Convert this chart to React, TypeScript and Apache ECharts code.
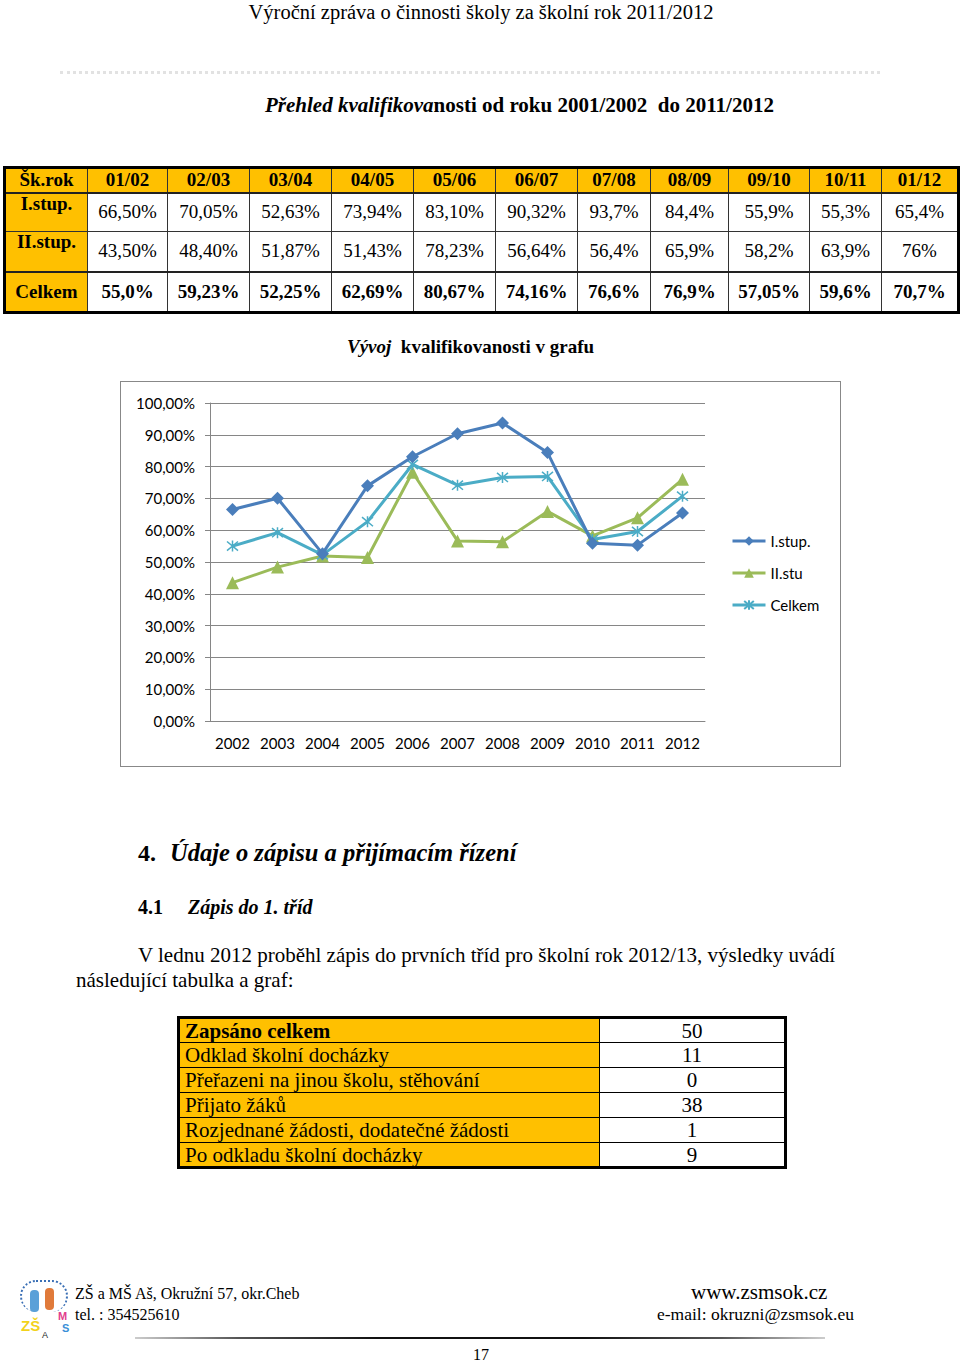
import React, { useEffect, useRef } from "react";
import * as echarts from "echarts";

// ---------- data ----------
const schoolYears = ["01/02", "02/03", "03/04", "04/05", "05/06", "06/07", "07/08", "08/09", "09/10", "10/11", "01/12"];
const chartYears = ["2002", "2003", "2004", "2005", "2006", "2007", "2008", "2009", "2010", "2011", "2012"];
const stup1Text = ["66,50%", "70,05%", "52,63%", "73,94%", "83,10%", "90,32%", "93,7%", "84,4%", "55,9%", "55,3%", "65,4%"];
const stup2Text = ["43,50%", "48,40%", "51,87%", "51,43%", "78,23%", "56,64%", "56,4%", "65,9%", "58,2%", "63,9%", "76%"];
const totalText = ["55,0%", "59,23%", "52,25%", "62,69%", "80,67%", "74,16%", "76,6%", "76,9%", "57,05%", "59,6%", "70,7%"];
const rowLabels = ["Šk.rok", "I.stup.", "II.stup.", "Celkem"];
const seriesNames = ["I.stup.", "II.stu", "Celkem"];
const enrolLabels = [
  "Zapsáno celkem",
  "Odklad školní docházky",
  "Přeřazeni na jinou školu, stěhování",
  "Přijato žáků",
  "Rozjednané žádosti, dodatečné žádosti",
  "Po odkladu školní docházky",
];
const enrolValues = [50, 11, 0, 38, 1, 9];

const toNum = (s: string) => parseFloat(s.replace("%", "").replace(",", "."));

// ---------- styles ----------
const SERIF = "'Liberation Serif', 'DejaVu Serif', serif";
const YELLOW = "#FFC000";
const colWidths = [83, 80, 82, 82, 82, 82, 82, 73, 78, 81, 72, 77];

const abs = (left: number, top: number, extra: React.CSSProperties = {}): React.CSSProperties => ({
  position: "absolute",
  left,
  top,
  whiteSpace: "nowrap",
  ...extra,
});

function Chart() {
  const ref = useRef<HTMLDivElement>(null);
  useEffect(() => {
    if (!ref.current) return;
    const chart = echarts.init(ref.current, undefined, { renderer: "svg" });
    const grey = "#868686";
    const asterisk = "path://M0,0L10,10M10,0L0,10M5,-1L5,11";
    chart.setOption({
      animation: false,
      textStyle: { fontFamily: "Lato, 'Open Sans', sans-serif" },
      grid: { left: 89, top: 21, right: 135, bottom: 45, containLabel: false, outerBoundsMode: "none" },
      legend: {
        orient: "vertical",
        left: 605,
        top: 146,
        itemWidth: 33,
        itemHeight: 12,
        itemGap: 16,
        data: seriesNames,
        lineStyle: { width: 3 },
        textStyle: { fontSize: 15, color: "#000", lineHeight: 16 },
      },
      xAxis: {
        type: "category",
        data: chartYears,
        boundaryGap: true,
        axisLine: { lineStyle: { color: grey } },
        axisTick: { length: 5, lineStyle: { color: grey } },
        axisLabel: { color: "#000", fontSize: 15, margin: 14, interval: 0 },
      },
      yAxis: {
        type: "value",
        min: 0,
        max: 100,
        interval: 10,
        axisLine: { show: true, lineStyle: { color: grey } },
        axisTick: { show: true, length: 5, lineStyle: { color: grey } },
        splitLine: { lineStyle: { color: grey } },
        axisLabel: {
          color: "#000",
          fontSize: 15,
          margin: 15,
          formatter: (v: number) => v.toFixed(2).replace(".", ",") + "%",
        },
      },
      series: [
        {
          name: seriesNames[0],
          type: "line",
          data: stup1Text.map(toNum),
          symbol: "diamond",
          symbolSize: 13,
          z: 4,
          color: "#4A7EBB",
          lineStyle: { width: 3 },
        },
        {
          name: seriesNames[1],
          type: "line",
          data: stup2Text.map(toNum),
          symbol: "triangle",
          symbolSize: 13,
          z: 2,
          color: "#9BBB59",
          lineStyle: { width: 3 },
        },
        {
          name: seriesNames[2],
          type: "line",
          data: totalText.map(toNum),
          symbol: asterisk,
          symbolSize: 11,
          z: 3,
          color: "#4BACC6",
          itemStyle: { borderColor: "#4BACC6", borderWidth: 1.5 },
          lineStyle: { width: 3 },
        },
      ],
    });
    return () => chart.dispose();
  }, []);
  return <div ref={ref} style={{ width: 719, height: 384 }} />;
}

function QualTable() {
  const rows = [schoolYears, stup1Text, stup2Text, totalText];
  const heights = [25, 39, 40, 41];
  return (
    <table
      style={{
        ...abs(3, 166),
        width: 955,
        borderCollapse: "collapse",
        tableLayout: "fixed",
        border: "3px solid #000",
        fontFamily: SERIF,
        fontSize: 19,
      }}
    >
      <colgroup>
        {colWidths.map((w, i) => (
          <col key={i} style={{ width: w }} />
        ))}
      </colgroup>
      <tbody>
        {rows.map((r, ri) => (
          <tr key={ri} style={{ height: heights[ri] }}>
            <td
              style={{
                background: YELLOW,
                fontWeight: "bold",
                textAlign: "center",
                verticalAlign: ri === 1 || ri === 2 ? "top" : "middle",
                border: "1px solid #333",
                borderBottom: ri === 0 || ri === 2 ? "2px solid #222" : "1px solid #333",
                padding: 0,
                lineHeight: "20px",
              }}
            >
              {rowLabels[ri]}
            </td>
            {r.map((c, ci) => (
              <td
                key={ci}
                style={{
                  background: ri === 0 ? YELLOW : "#fff",
                  fontWeight: ri === 0 || ri === 3 ? "bold" : "normal",
                  textAlign: "center",
                  verticalAlign: "middle",
                  border: "1px solid #333",
                  borderBottom: ri === 0 || ri === 2 ? "2px solid #222" : "1px solid #333",
                  padding: 0,
                  lineHeight: "20px",
                }}
              >
                {c}
              </td>
            ))}
          </tr>
        ))}
      </tbody>
    </table>
  );
}

function EnrolTable() {
  return (
    <table
      style={{
        ...abs(177, 1016),
        width: 607,
        borderCollapse: "collapse",
        tableLayout: "fixed",
        border: "3px solid #000",
        fontFamily: SERIF,
        fontSize: 21,
      }}
    >
      <colgroup>
        <col style={{ width: 421 }} />
        <col style={{ width: 186 }} />
      </colgroup>
      <tbody>
        {enrolLabels.map((l, i) => (
          <tr key={i} style={{ height: 25 }}>
            <td
              style={{
                background: YELLOW,
                fontWeight: i === 0 ? "bold" : "normal",
                border: "1px solid #000",
                padding: "0 0 0 5px",
                lineHeight: "22px",
              }}
            >
              {l}
            </td>
            <td
              style={{
                background: "#fff",
                textAlign: "center",
                border: "1px solid #000",
                padding: 0,
                lineHeight: "22px",
              }}
            >
              {enrolValues[i]}
            </td>
          </tr>
        ))}
      </tbody>
    </table>
  );
}

export default function App() {
  return (
    <div
      style={{
        position: "absolute",
        left: 0,
        top: 0,
        width: 960,
        height: 1362,
        background: "#fff",
        overflow: "hidden",
        fontFamily: SERIF,
        color: "#000",
      }}
    >
      {/* header */}
      <div style={{ ...abs(0, 1, { width: 962, textAlign: "center", fontSize: 20.5, lineHeight: "22px" }) }}>
        Výroční zpráva o činnosti školy za školní rok 2011/2012
      </div>
      <div style={abs(60, 71, { width: 820, borderTop: "3px dotted #e2e2e2" })} />

      <div style={abs(265, 94, { fontSize: 21, lineHeight: "22px", fontWeight: "bold" })}>
        <i>Přehled kvalifikova</i>nosti od roku 2001/2002&nbsp; do 2011/2012
      </div>

      <QualTable />

      <div style={abs(347, 336, { fontSize: 19, lineHeight: "22px", fontWeight: "bold" })}>
        <i>Vývoj</i>&nbsp; kvalifikovanosti v grafu
      </div>

      <div style={abs(120, 381, { border: "1px solid #888", width: 719, height: 384 })}>
        <Chart />
      </div>

      {/* section 4 */}
      <div style={abs(138, 839, { fontSize: 24, lineHeight: "28px", fontWeight: "bold" })}>4.</div>
      <div style={abs(170, 839, { fontSize: 24.5, lineHeight: "28px", fontWeight: "bold", fontStyle: "italic" })}>
        Údaje o zápisu a přijímacím řízení
      </div>
      <div style={abs(138, 896, { fontSize: 20, lineHeight: "22px", fontWeight: "bold" })}>4.1</div>
      <div style={abs(188, 896, { fontSize: 20, lineHeight: "22px", fontWeight: "bold", fontStyle: "italic" })}>
        Zápis do 1. tříd
      </div>
      <div style={abs(138, 944, { fontSize: 21, lineHeight: "22px" })}>
        V lednu 2012 proběhl zápis do prvních tříd pro školní rok 2012/13, výsledky uvádí
      </div>
      <div style={abs(76, 969, { fontSize: 21, lineHeight: "22px" })}>následující tabulka a graf:</div>

      <EnrolTable />

      {/* footer logo */}
      <div style={abs(18, 1278, { width: 56, height: 64, fontFamily: "'Liberation Sans', sans-serif" })}>
        <div style={abs(2, 2, { width: 44, height: 30, borderRadius: 22, border: "2px dotted #3a6fb5", borderBottom: "none" })} />
        <div style={abs(12, 12, { width: 9, height: 22, background: "#5aa0d8", borderRadius: 4 })} />
        <div style={abs(27, 10, { width: 9, height: 22, background: "#e07a3a", borderRadius: 4 })} />
        <div style={abs(40, 32, { fontSize: 11, fontWeight: "bold", color: "#e23d8c", lineHeight: "12px" })}>M</div>
        <div style={abs(44, 44, { fontSize: 11, fontWeight: "bold", color: "#3a8fd8", lineHeight: "12px" })}>S</div>
        <div style={abs(3, 40, { fontSize: 15, fontWeight: "bold", color: "#f2d21b", lineHeight: "16px" })}>ZŠ</div>
        <div style={abs(24, 52, { fontSize: 9, color: "#222", lineHeight: "10px" })}>A</div>
      </div>
      <div style={abs(75, 1284, { fontSize: 16, lineHeight: "19px" })}>ZŠ a MŠ Aš, Okružní 57, okr.Cheb</div>
      <div style={abs(75, 1305, { fontSize: 16, lineHeight: "19px" })}>tel. : 354525610</div>
      <div style={abs(691, 1282, { fontSize: 21, lineHeight: "21px" })}>www.zsmsok.cz</div>
      <div style={abs(657, 1305, { fontSize: 17.5, lineHeight: "19px" })}>e-mail: okruzni@zsmsok.eu</div>
      <div
        style={abs(135, 1337, {
          width: 690,
          height: 2,
          background: "linear-gradient(to right, #ccc 0%, #555 15%, #111 35%, #111 65%, #555 85%, #ccc 100%)",
        })}
      />
      <div style={abs(0, 1345, { width: 962, textAlign: "center", fontSize: 16, lineHeight: "19px" })}>17</div>
    </div>
  );
}
